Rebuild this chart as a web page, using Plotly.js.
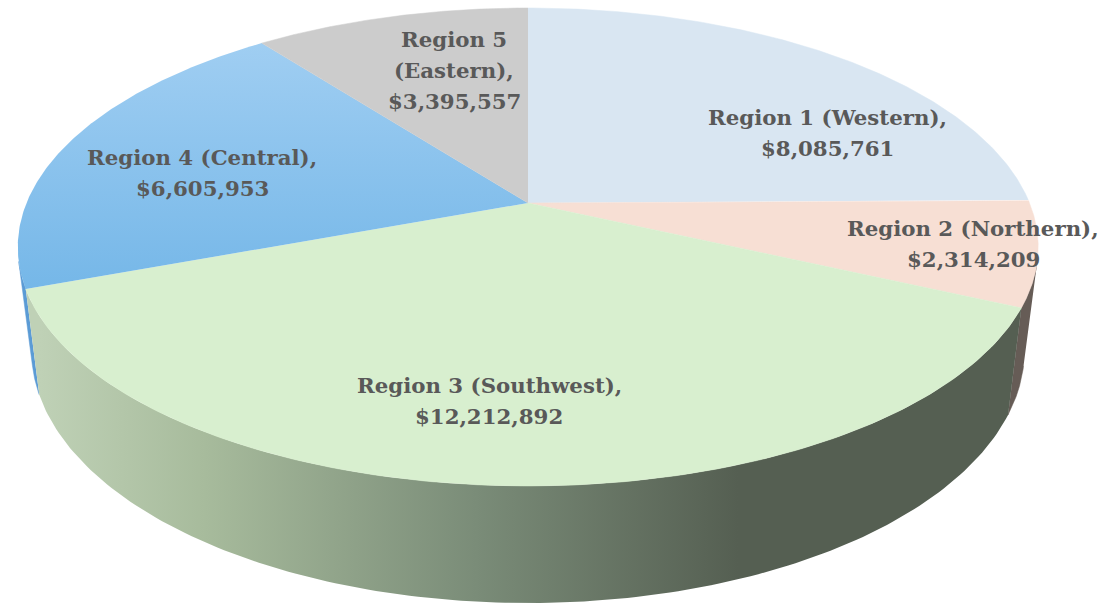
<!DOCTYPE html>
<html>
<head>
<meta charset="utf-8">
<script src="https://cdn.plot.ly/plotly-3.0.1.min.js"></script>
<style>html,body{margin:0;padding:0;background:#fff;overflow:hidden}#chart{width:1112px;height:603px}</style>
</head>
<body>
<div id="chart"></div>
<script>
// Data
var categories = ["Region 1 (Western)", "Region 2 (Northern)", "Region 3 (Southwest)", "Region 4 (Central)", "Region 5<br>(Eastern)"];
var sales = [8085761, 2314209, 12212892, 6605953, 3395557];
var topColors = ["#D9E6F2", "#F7DFD4", "#D8EFCF", "#8DC3EE", "#CCCCCC"];
var labelX = [827, 973, 489, 202, 454];
var labelFirstLineY = [117, 228, 385, 157, 39];
var labelLineGap = 31;

// Projection of the tilted disc onto the page
var CX = 528, TOP_Y = 203, TOP_R = 501.5, TOP_B = 230.9;
var BOT_Y = 304, BOT_R = 488, BOT_B = 244, K = 0.184;
function pt(deg, face) {
  var a = deg * Math.PI / 180, X = Math.sin(a), Y = Math.cos(a), d = 1 + K * Y;
  return face === 'top'
    ? [CX + TOP_R * X / d, TOP_Y - TOP_B * Y / d]
    : [CX + BOT_R * X / d, BOT_Y - BOT_B * Y / d];
}
function arc(from, to, face) {
  var out = [], n = 160;
  for (var i = 0; i <= n; i++) out.push(pt(from + (to - from) * i / n, face));
  return out;
}
function poly(points, extra) {
  var t = {
    type: 'scatter', mode: 'lines', fill: 'toself', hoverinfo: 'skip', showlegend: false,
    x: points.map(function (p) { return p[0]; }),
    y: points.map(function (p) { return p[1]; })
  };
  for (var k in extra) t[k] = extra[k];
  return t;
}

var total = sales.reduce(function (a, b) { return a + b; }, 0);
var angles = [0];
sales.forEach(function (v, i) { angles.push(angles[i] + v / total * 360); });

var traces = [];
// Side walls (behind the top face)
function wall(from, to, extra) {
  return poly(arc(from, to, 'top').concat(arc(to, from, 'bot')), extra);
}
traces.push(wall(angles[3], 256, {line: {width: 0.5, color: '#5B9BD5'}, fillcolor: '#5B9BD5'}));
traces.push(wall(104, angles[2], {line: {width: 0.5, color: '#665C56'}, fillcolor: '#665C56'}));
traces.push(wall(angles[2], angles[3], {
  line: {width: 0},
  fillgradient: {
    type: 'horizontal', start: 40, stop: 1010,
    colorscale: [[0, '#BFD1B6'], [0.17, '#A7BB9C'], [0.45, '#7A8C78'], [0.72, '#555F52'], [1, '#555F52']]
  }
}));
// Top face wedges
sales.forEach(function (v, i) {
  var pts = [[CX, TOP_Y]].concat(arc(angles[i], angles[i + 1], 'top'));
  var extra = {line: {width: 0.5, color: topColors[i]}, fillcolor: topColors[i]};
  if (i === 3) {
    extra = {
      line: {width: 0},
      fillgradient: {type: 'vertical', start: 42, stop: 290, colorscale: [[0, '#A0CEF2'], [1, '#75B7E8']]}
    };
  }
  traces.push(poly(pts, extra));
});

var annotations = [];
categories.forEach(function (c, i) {
  var lines = (c + ',<br>$' + sales[i].toLocaleString('en-US')).split('<br>');
  lines.forEach(function (line, j) {
    annotations.push({
      x: labelX[i], y: labelFirstLineY[i] + j * labelLineGap, xref: 'x', yref: 'y', showarrow: false,
      xanchor: 'center', yanchor: 'middle', align: 'center',
      text: line,
      font: {family: '"DejaVu Serif", serif', size: 21.3, color: '#595959', weight: 700}
    });
  });
});

Plotly.newPlot('chart', traces, {
  width: 1112, height: 603,
  margin: {l: 0, r: 0, t: 0, b: 0},
  paper_bgcolor: '#fff', plot_bgcolor: '#fff',
  xaxis: {range: [0, 1112], visible: false, fixedrange: true},
  yaxis: {range: [603, 0], visible: false, fixedrange: true},
  annotations: annotations,
  showlegend: false
}, {displayModeBar: false, staticPlot: true});
</script>
</body>
</html>
